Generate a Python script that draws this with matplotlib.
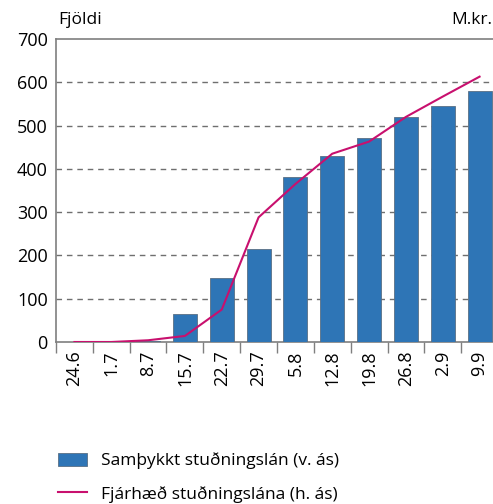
import numpy as np
import matplotlib.pyplot as plt
from matplotlib.patches import Patch
from matplotlib.lines import Line2D

plt.rcParams["font.family"] = ["Open Sans", "DejaVu Sans"]

categories = ["24.6", "1.7", "8.7", "15.7", "22.7", "29.7",
              "5.8", "12.8", "19.8", "26.8", "2.9", "9.9"]
approved_loans = [0, 0, 3, 65, 148, 215, 382, 430, 472, 519, 546, 580]
loan_amount = [0, 0, 4, 14, 75, 288, 365, 435, 463, 520, 567, 613]

bar_color = "#2e75b6"
line_color = "#c8106e"
grey = "#7f7f7f"

fig = plt.figure(figsize=(4.93, 5.04), dpi=100)
ax = fig.add_axes([56 / 493, 162 / 504, 442 / 493, 303 / 504])

x = np.arange(len(categories))
ax.bar(x, approved_loans, width=0.65, color=bar_color,
       edgecolor="#5a6f85", linewidth=0.6, zorder=3)

ax2 = ax.twinx()
ax2.plot(x, loan_amount, color=line_color, linewidth=1.5, zorder=4)
ax2.set_ylim(0, 700)
ax2.set_yticks([])
for s in ax2.spines.values():
    s.set_visible(False)

ax.set_xlim(-0.5, len(categories) - 0.5)
ax.set_ylim(0, 700)
ax.set_yticks(range(0, 701, 100))
ax.tick_params(axis="y", length=0, pad=6, labelsize=13)
for v in range(100, 700, 100):
    ax.axhline(v, color="#6f6f6f", linestyle=(0, (4, 3.5)), linewidth=1, zorder=1)

ax.set_xticks(np.arange(-0.5, len(categories)), labels=[])
ax.set_xticks(x, labels=categories, minor=True, rotation=90)
ax.tick_params(axis="x", which="major", length=8, color=grey, width=1)
ax.tick_params(axis="x", which="minor", length=0, pad=6, labelsize=13)

for side in ["left", "top", "bottom"]:
    ax.spines[side].set_color(grey)
    ax.spines[side].set_linewidth(1.2)
ax.spines["right"].set_visible(False)

fig.text(58 / 493, 1 - 20 / 504, "Fjöldi", fontsize=12.5, ha="left", va="center")
fig.text(492 / 493, 1 - 20 / 504, "M.kr.", fontsize=12.5, ha="right", va="center")

handles = [Patch(facecolor=bar_color, edgecolor="#5a6f85", linewidth=0.6),
           Line2D([0], [0], color=line_color, linewidth=1.5)]
labels = ["Samþykkt stuðningslán (v. ás)", "Fjárhæð stuðningslána (h. ás)"]
fig.legend(handles, labels, loc="upper left",
           bbox_to_anchor=(42 / 493, 1 - 437 / 504), frameon=False,
           fontsize=12.5, handlelength=1.7, handleheight=0.8,
           handletextpad=0.8, labelspacing=0.95)

fig.savefig("out.png", dpi=100)
